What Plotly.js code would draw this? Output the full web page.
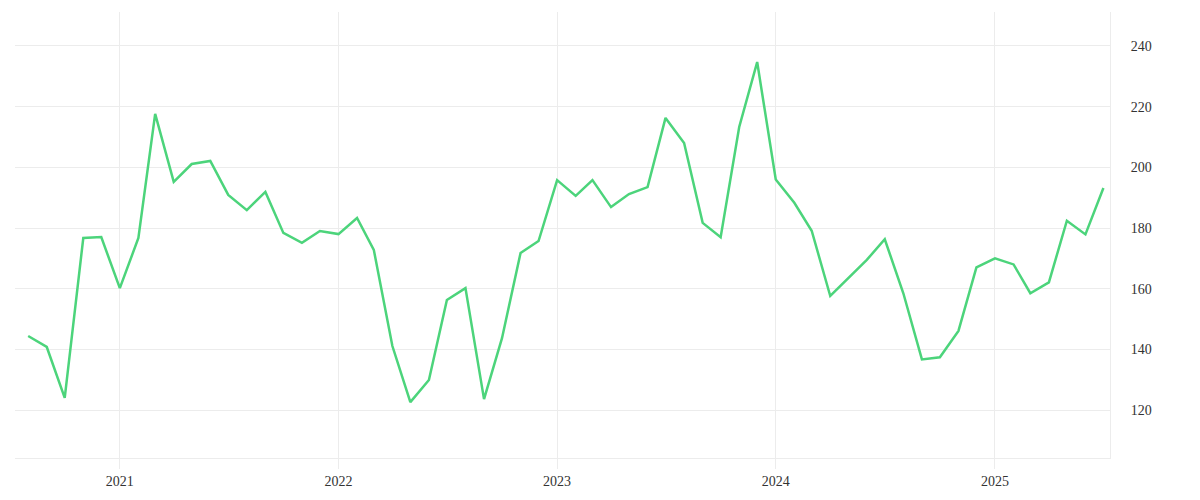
<!DOCTYPE html>
<html>
<head>
<meta charset="utf-8">
<script src="https://cdn.plot.ly/plotly-3.0.1.min.js"></script>
<style>
  html, body { margin: 0; padding: 0; background: #fff; }
  #chart { width: 1200px; height: 500px; }
</style>
</head>
<body>
<div id="chart"></div>
<script>
// monthly series, Aug 2020 - Jul 2025
var months = [
  '2020-08-01','2020-09-01','2020-10-01','2020-11-01','2020-12-01',
  '2021-01-01','2021-02-01','2021-03-01','2021-04-01','2021-05-01','2021-06-01',
  '2021-07-01','2021-08-01','2021-09-01','2021-10-01','2021-11-01','2021-12-01',
  '2022-01-01','2022-02-01','2022-03-01','2022-04-01','2022-05-01','2022-06-01',
  '2022-07-01','2022-08-01','2022-09-01','2022-10-01','2022-11-01','2022-12-01',
  '2023-01-01','2023-02-01','2023-03-01','2023-04-01','2023-05-01','2023-06-01',
  '2023-07-01','2023-08-01','2023-09-01','2023-10-01','2023-11-01','2023-12-01',
  '2024-01-01','2024-02-01','2024-03-01','2024-04-01','2024-05-01','2024-06-01',
  '2024-07-01','2024-08-01','2024-09-01','2024-10-01','2024-11-01','2024-12-01',
  '2025-01-01','2025-02-01','2025-03-01','2025-04-01','2025-05-01','2025-06-01',
  '2025-07-01'
];

var values = [
  144.4, 140.8, 124.0, 176.7, 177.0,
  160.2, 176.7, 217.6, 195.2, 201.1, 202.1,
  190.9, 185.9, 191.9, 178.4, 175.1, 179.0,
  178.0, 183.3, 172.8, 141.1, 122.6, 129.9,
  156.3, 160.2, 123.6, 143.7, 171.8, 175.7,
  195.8, 190.6, 195.8, 186.9, 191.2, 193.5,
  216.3, 208.0, 181.7, 177.0, 213.3, 234.7,
  196.0, 188.3, 179.1, 157.6, 163.4, 169.5,
  176.3, 158.5, 136.7, 137.4, 146.1, 167.0,
  170.0, 168.0, 158.5, 162.1, 182.4, 177.9,
  193.2
];

var yTicks = [120, 140, 160, 180, 200, 220, 240];

var data = [
  {
    x: months,
    y: values,
    type: 'scatter',
    mode: 'lines',
    line: { color: '#4cd47b', width: 2.5 },
    hoverinfo: 'x+y'
  }
];

var layout = {
  width: 1200,
  height: 500,
  margin: { l: 15, r: 90, t: 12, b: 42 },
  paper_bgcolor: '#fff',
  plot_bgcolor: '#fff',
  showlegend: false,
  font: { family: 'Liberation Serif, serif', size: 14, color: '#333' },
  xaxis: {
    type: 'date',
    range: ['2020-07-10', '2025-07-12'],
    dtick: 'M12',
    tick0: '2021-01-01',
    tickformat: '%Y',
    showgrid: true,
    gridcolor: '#ececec',
    showline: true,
    linecolor: '#ececec',
    linewidth: 1,
    ticks: 'outside',
    ticklen: 10,
    tickcolor: '#ececec',
    zeroline: false
  },
  yaxis: {
    side: 'right',
    range: [104.2, 251.2],
    tickvals: yTicks,
    showgrid: true,
    gridcolor: '#ececec',
    showline: true,
    linecolor: '#ececec',
    linewidth: 1,
    ticks: '',
    ticklabelstandoff: 17,
    zeroline: false
  }
};

Plotly.newPlot('chart', data, layout, { displayModeBar: false, staticPlot: true });
</script>
</body>
</html>
